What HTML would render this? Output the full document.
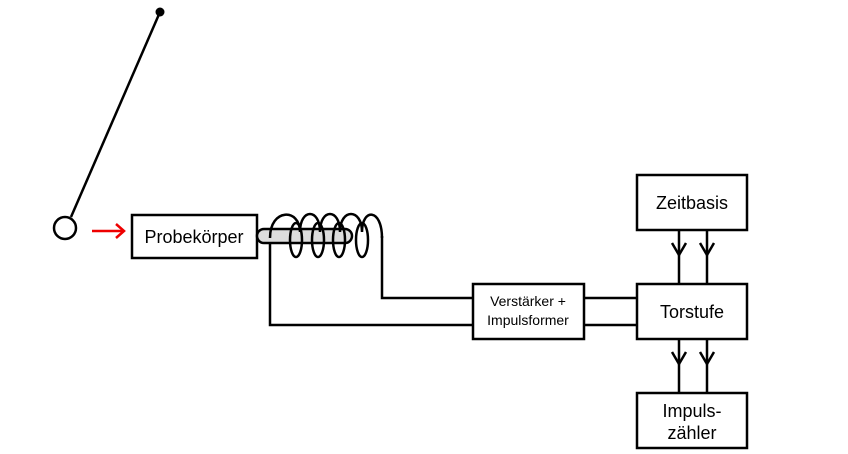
<!DOCTYPE html>
<html><head><meta charset="utf-8"><style>
body{margin:0;background:#fff}
svg{display:block}
text{font-family:"Liberation Sans",Arial,sans-serif;fill:#000}
</style></head><body>
<svg width="848" height="454" viewBox="0 0 848 454" xmlns="http://www.w3.org/2000/svg">
<g stroke="#000" stroke-width="2.5" fill="none">
<line x1="160" y1="12" x2="71" y2="217"/>
<circle cx="65" cy="228" r="11" fill="#fff"/>
<rect x="132" y="215" width="125" height="43" fill="#fff"/>
<rect x="257" y="229" width="95" height="14" rx="7" fill="#ddd"/>
<path d="M270 243 V325 H473"/>
<path d="M382 236 V298 H473"/>
<path d="M270 238 C270 208 300 208 300 232 C300 208 320 208 320 232 C320 208 340 208 340 232 C340 208 362 208 362 232 C362 208 382 208 382 238"/>
<ellipse cx="296" cy="240" rx="6" ry="17"/>
<ellipse cx="318" cy="240" rx="6" ry="17"/>
<ellipse cx="339" cy="240" rx="6" ry="17"/>
<ellipse cx="362" cy="240" rx="6" ry="17"/>
<rect x="473" y="284" width="111" height="55" fill="#fff"/>
<line x1="584" y1="298" x2="637" y2="298"/>
<line x1="584" y1="325" x2="637" y2="325"/>
<rect x="637" y="175" width="110" height="55" fill="#fff"/>
<rect x="637" y="284" width="110" height="55" fill="#fff"/>
<rect x="637" y="393" width="110" height="55" fill="#fff"/>
<line x1="679" y1="230" x2="679" y2="284"/>
<line x1="707" y1="230" x2="707" y2="284"/>
<line x1="679" y1="339" x2="679" y2="393"/>
<line x1="707" y1="339" x2="707" y2="393"/>
<path d="M672 243 L679 255 L686 243 M700 243 L707 255 L714 243"/>
<path d="M672 352 L679 364 L686 352 M700 352 L707 364 L714 352"/>
</g>
<circle cx="160" cy="12" r="4.5" fill="#000"/>
<g stroke="#e00" stroke-width="2.5" fill="none">
<line x1="92" y1="231" x2="124" y2="231"/>
<path d="M116 224 L124 231 L116 238"/>
</g>
<text x="194" y="243" font-size="18" text-anchor="middle">Probekörper</text>
<text x="528" y="306" font-size="14" text-anchor="middle">Verstärker +</text>
<text x="528" y="325" font-size="14" text-anchor="middle">Impulsformer</text>
<text x="692" y="209" font-size="18" text-anchor="middle">Zeitbasis</text>
<text x="692" y="318" font-size="18" text-anchor="middle">Torstufe</text>
<text x="692" y="417" font-size="18" text-anchor="middle">Impuls-</text>
<text x="692" y="439" font-size="18" text-anchor="middle">zähler</text>
</svg>
</body></html>
